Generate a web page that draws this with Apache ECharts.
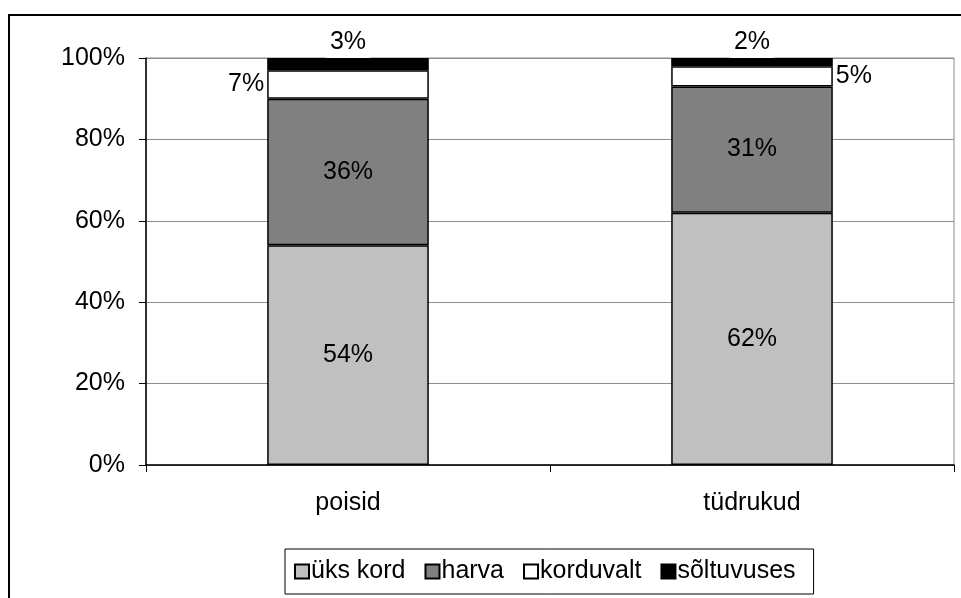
<!DOCTYPE html>
<html>
<head>
<meta charset="UTF-8">
<title>poisid / tüdrukud</title>
<script src="https://cdn.jsdelivr.net/npm/echarts@6/dist/echarts.min.js"></script>
<style>
  body { margin: 0; background: #fff; }
  #chart { width: 961px; height: 598px; }
</style>
</head>
<body>
<div id="chart"></div>
<script>
// andmed
const categories = ['poisid', 'tüdrukud'];
const seriesNames = ['üks kord', 'harva', 'korduvalt', 'sõltuvuses'];
const uksKord = [54, 62];
const harva = [36, 31];
const korduvalt = [7, 5];
const soltuvuses = [3, 2];
const yTicks = [0, 20, 40, 60, 80, 100];

const colors = ['#c0c0c0', '#808080', '#ffffff', '#000000'];
const font = 'Liberation Sans, Arial, sans-serif';
const fs = 25;

const chart = echarts.init(document.getElementById('chart'));

function baseLabel(extra) {
  return Object.assign({
    show: true,
    color: '#000',
    fontFamily: font,
    fontSize: fs,
    formatter: p => p.value + '%'
  }, extra || {});
}

const korduvaltPos = ['left', 'right'];

const series = [
  {
    name: seriesNames[0], data: uksKord,
    label: baseLabel({ position: 'inside' })
  },
  {
    name: seriesNames[1], data: harva,
    label: baseLabel({ position: 'inside' })
  },
  {
    name: seriesNames[2],
    data: korduvalt.map((v, i) => ({ value: v, label: { position: korduvaltPos[i], distance: 3 } })),
    label: baseLabel()
  },
  {
    name: seriesNames[3], data: soltuvuses,
    label: baseLabel({ position: 'top', distance: 0, backgroundColor: '#fff', padding: [0, 4, 3, 4] })
  }
].map((s, i) => Object.assign({
  type: 'bar',
  stack: 'total',
  barWidth: '40%',
  itemStyle: { color: colors[i], borderColor: '#000', borderWidth: 1.5 }
}, s));

chart.setOption({
  animation: false,
  textStyle: { fontFamily: font },
  grid: {
    left: 146, right: 7, top: 58, bottom: 133,
    show: true, borderColor: '#8c8c8c', borderWidth: 1
  },
  xAxis: {
    type: 'category',
    data: categories,
    axisLine: { lineStyle: { color: '#000', width: 1.5 } },
    axisTick: { show: true, length: 7, lineStyle: { color: '#000' } },
    axisLabel: { color: '#000', fontSize: fs, margin: 26, fontFamily: font }
  },
  yAxis: {
    type: 'value',
    min: yTicks[0],
    max: yTicks[yTicks.length - 1],
    interval: yTicks[1] - yTicks[0],
    axisLine: { show: true, lineStyle: { color: '#000', width: 1.5 } },
    axisTick: { show: true, length: 7, lineStyle: { color: '#000' } },
    axisLabel: { color: '#000', fontSize: fs, margin: 21, fontFamily: font, formatter: '{value}%' },
    splitLine: { lineStyle: { color: '#8c8c8c', width: 1 } }
  },
  legend: {
    data: seriesNames,
    left: 285,
    top: 549,
    icon: 'rect',
    itemWidth: 14,
    itemHeight: 14,
    itemGap: 19,
    padding: [10, 18, 10, 9],
    borderColor: '#000',
    borderWidth: 1,
    textStyle: { color: '#000', fontSize: fs, fontFamily: font, padding: [0, 0, 0, -3] }
  },
  graphic: [{
    type: 'rect',
    shape: { x: 9, y: 15, width: 960, height: 600 },
    style: { fill: 'none', stroke: '#000', lineWidth: 2 },
    silent: true,
    z: -1
  }],
  series: series
});
</script>
</body>
</html>
